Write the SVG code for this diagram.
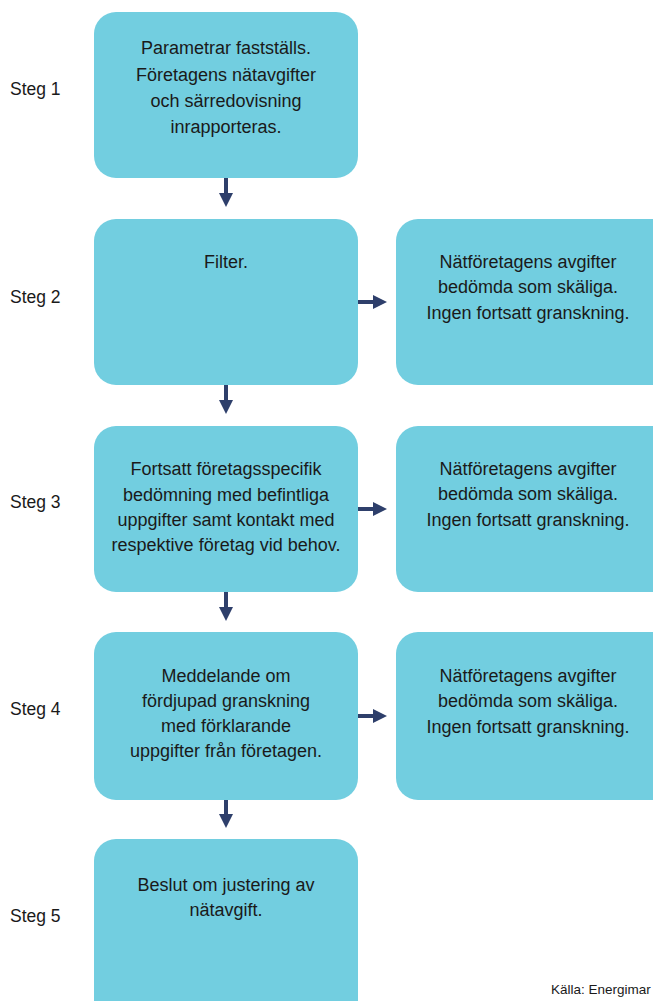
<svg xmlns="http://www.w3.org/2000/svg" width="653" height="1001" viewBox="0 0 653 1001">
<style>
.box{fill:#72CEE0}
.t{font-family:"Liberation Sans",Arial,sans-serif;font-size:18px;fill:#1a1a1a;text-anchor:middle}
.s{font-family:"Liberation Sans",Arial,sans-serif;font-size:17.5px;fill:#1a1a1a}
.c{stroke:#2E3F6B;stroke-width:4;fill:none}
.h{fill:#2E3F6B}
</style>
<rect width="653" height="1001" fill="#ffffff"/>
<g id="labels">
<text class="s" x="10" y="95">Steg 1</text>
<text class="s" x="10" y="303">Steg 2</text>
<text class="s" x="10" y="508">Steg 3</text>
<text class="s" x="10" y="715">Steg 4</text>
<text class="s" x="10" y="922">Steg 5</text>
</g>
<g id="step1">
<rect class="box" x="94" y="12" width="264" height="166" rx="22"/>
<text class="t" x="226" y="54">Parametrar fastställs.</text>
<text class="t" x="226" y="81">Företagens nätavgifter</text>
<text class="t" x="226" y="107">och särredovisning</text>
<text class="t" x="226" y="133">inrapporteras.</text>
</g>
<g id="step2">
<rect class="box" x="94" y="219" width="264" height="166" rx="22"/>
<text class="t" x="226" y="268">Filter.</text>
</g>
<g id="ok2">
<rect class="box" x="396" y="219" width="280" height="166" rx="22"/>
<text class="t" x="528" y="268">Nätföretagens avgifter</text>
<text class="t" x="528" y="293">bedömda som skäliga.</text>
<text class="t" x="528" y="319">Ingen fortsatt granskning.</text>
</g>
<g id="step3">
<rect class="box" x="94" y="426" width="264" height="166" rx="22"/>
<text class="t" x="226" y="475">Fortsatt företagsspecifik</text>
<text class="t" x="226" y="501">bedömning med befintliga</text>
<text class="t" x="226" y="526">uppgifter samt kontakt med</text>
<text class="t" x="226" y="551">respektive företag vid behov.</text>
</g>
<g id="ok3">
<rect class="box" x="396" y="426" width="280" height="166" rx="22"/>
<text class="t" x="528" y="475">Nätföretagens avgifter</text>
<text class="t" x="528" y="500">bedömda som skäliga.</text>
<text class="t" x="528" y="526">Ingen fortsatt granskning.</text>
</g>
<g id="step4">
<rect class="box" x="94" y="632" width="264" height="168" rx="22"/>
<text class="t" x="226" y="682">Meddelande om</text>
<text class="t" x="226" y="707">fördjupad granskning</text>
<text class="t" x="226" y="732">med förklarande</text>
<text class="t" x="226" y="757">uppgifter från företagen.</text>
</g>
<g id="ok4">
<rect class="box" x="396" y="632" width="280" height="168" rx="22"/>
<text class="t" x="528" y="682">Nätföretagens avgifter</text>
<text class="t" x="528" y="707">bedömda som skäliga.</text>
<text class="t" x="528" y="733">Ingen fortsatt granskning.</text>
</g>
<g id="step5">
<rect class="box" x="94" y="839" width="264" height="190" rx="22"/>
<text class="t" x="226" y="891">Beslut om justering av</text>
<text class="t" x="226" y="916">nätavgift.</text>
</g>
<g id="connectors">
<line class="c" x1="226" y1="178" x2="226" y2="194"/><polygon class="h" points="219,193 233,193 226,207"/>
<line class="c" x1="226" y1="385" x2="226" y2="401"/><polygon class="h" points="219,400 233,400 226,414"/>
<line class="c" x1="226" y1="592" x2="226" y2="608"/><polygon class="h" points="219,607 233,607 226,621"/>
<line class="c" x1="226" y1="800" x2="226" y2="815"/><polygon class="h" points="219,814 233,814 226,828"/>
<line class="c" x1="358" y1="302" x2="374" y2="302"/><polygon class="h" points="373,295 373,309 387,302"/>
<line class="c" x1="358" y1="509" x2="374" y2="509"/><polygon class="h" points="373,502 373,516 387,509"/>
<line class="c" x1="358" y1="716" x2="374" y2="716"/><polygon class="h" points="373,709 373,723 387,716"/>
</g>
<text x="551" y="994" style="font-family:'Liberation Sans',Arial,sans-serif;font-size:13.5px;fill:#1a1a1a">Källa: Energimar</text>
</svg>
